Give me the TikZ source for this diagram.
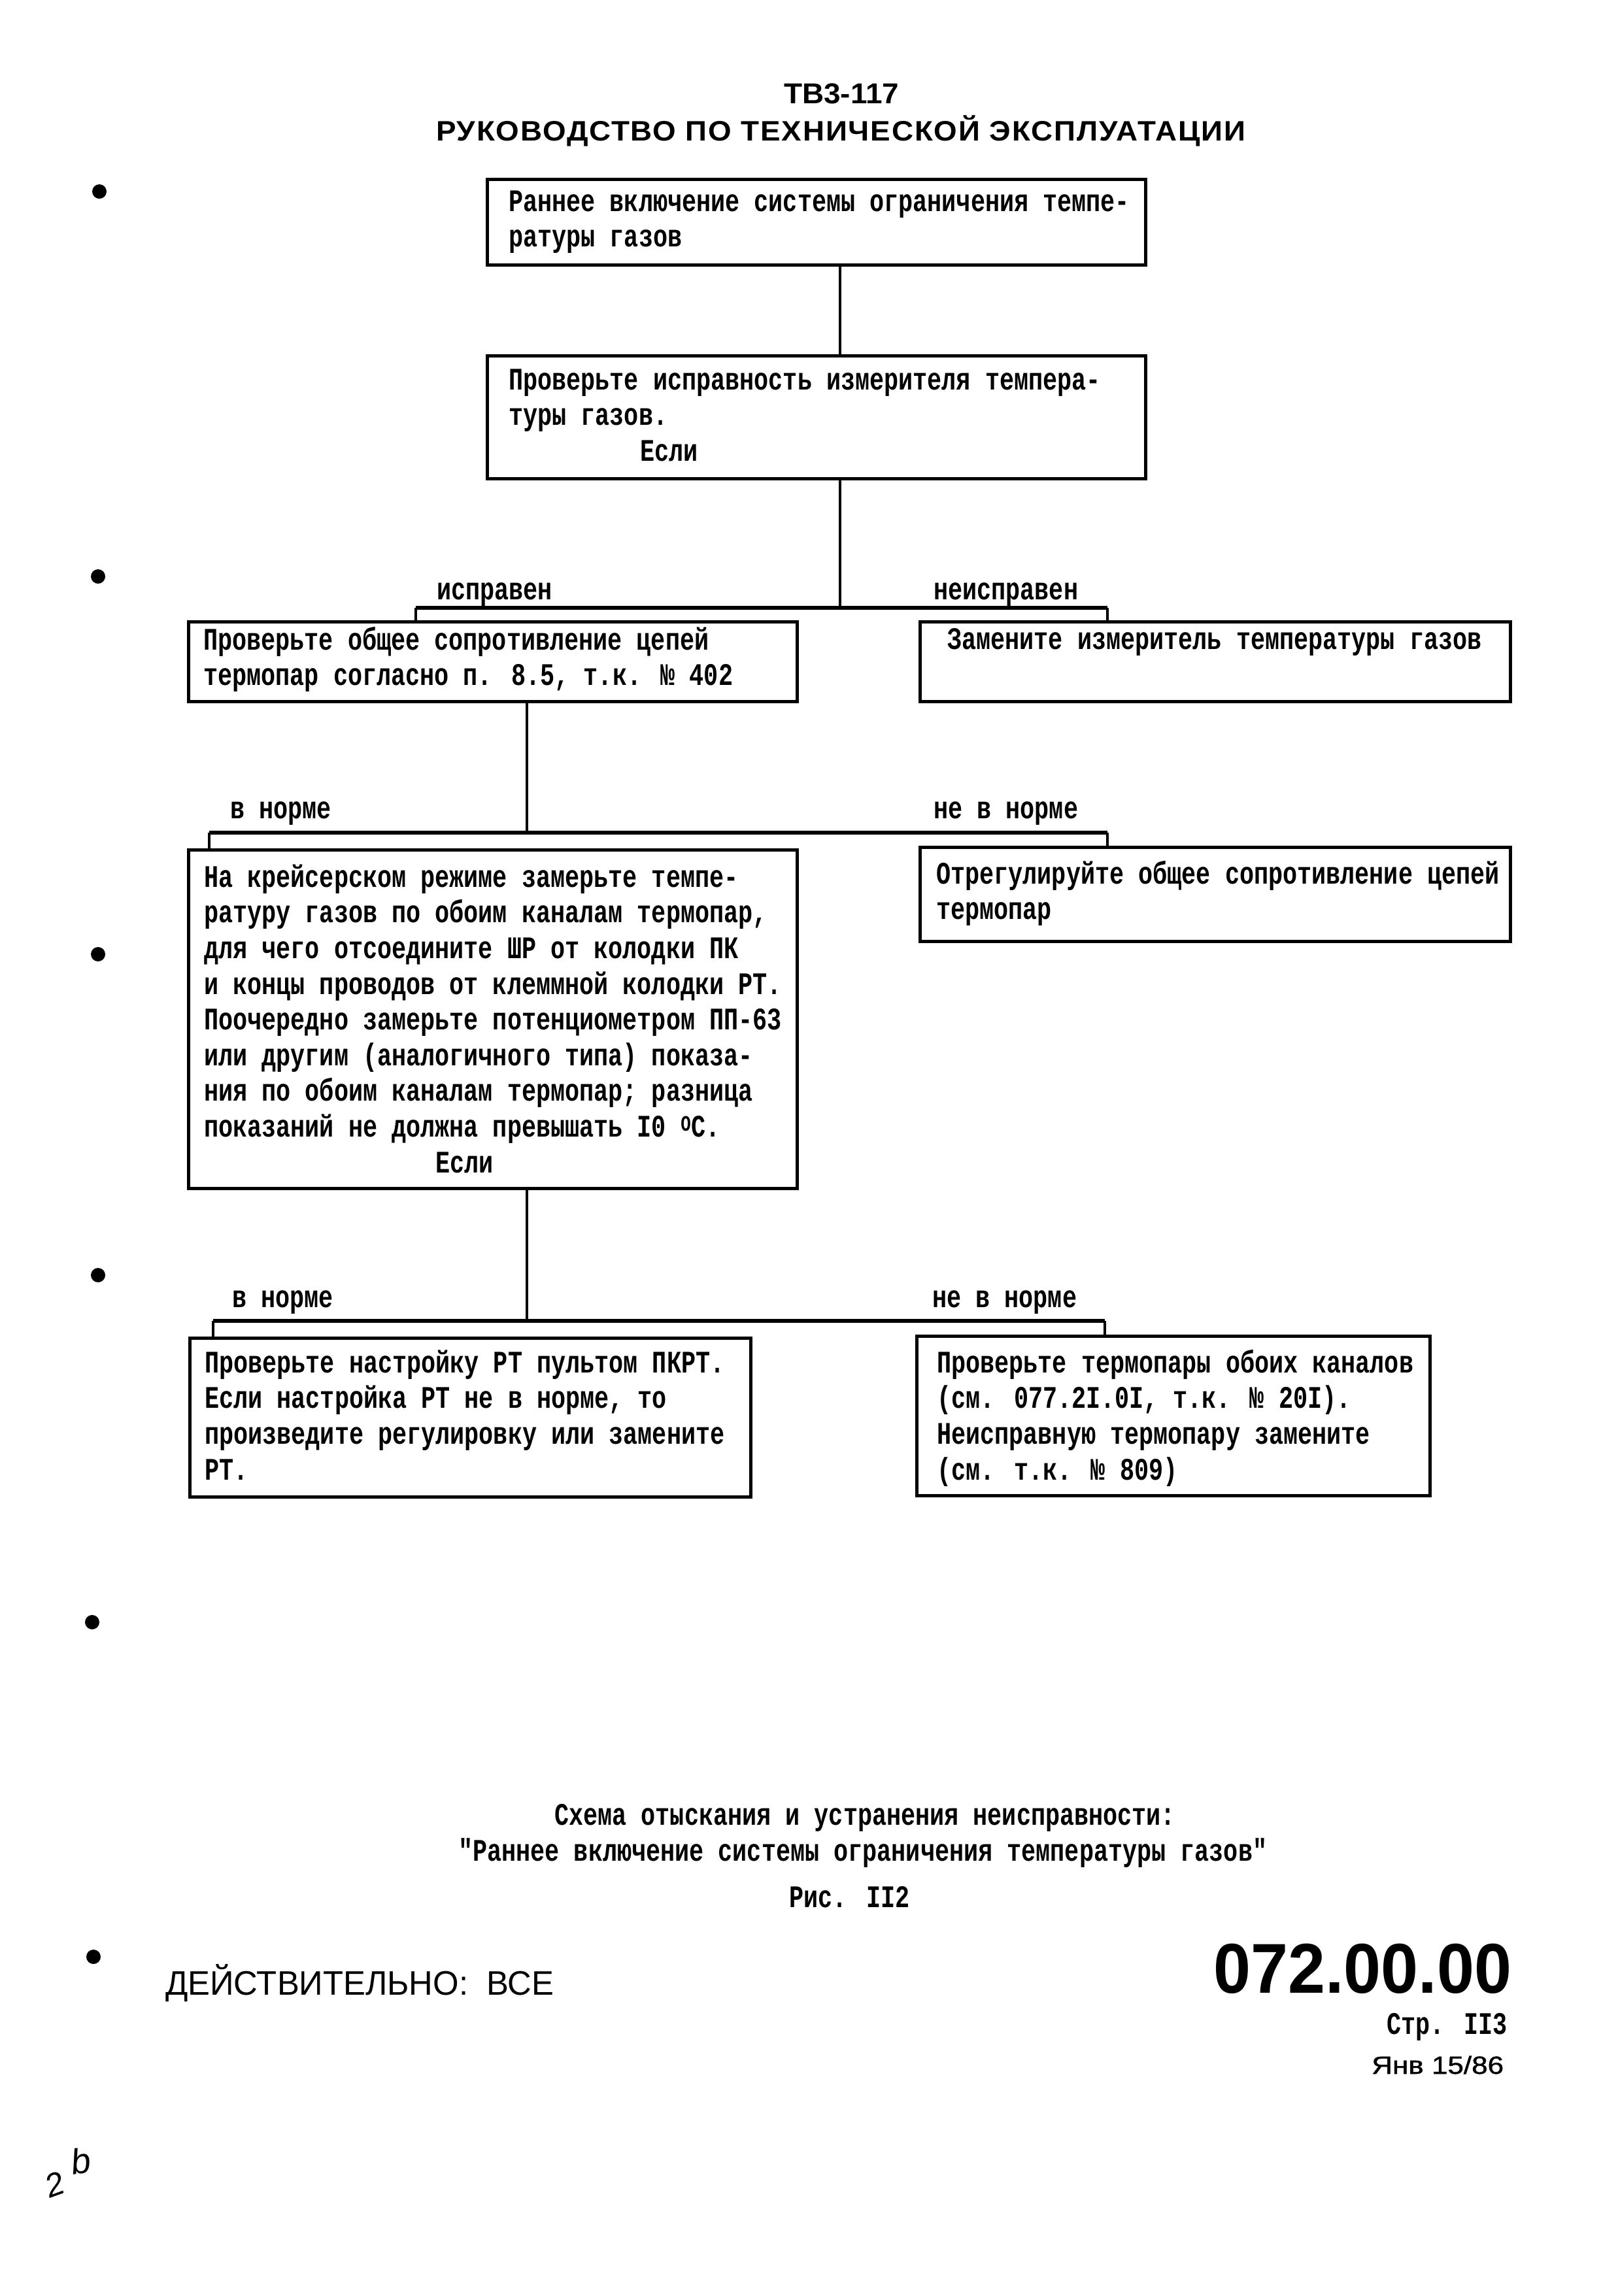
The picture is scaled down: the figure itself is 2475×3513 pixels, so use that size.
\documentclass[tikz,border=0pt]{standalone}
\usepackage{fontspec}
\usepackage{graphicx}
\newfontfamily\twb{Liberation Mono Bold}[FakeStretch=0.767]
\newfontfamily\hsb{Liberation Sans Bold}
\newfontfamily\hsbls{Liberation Sans Bold}[LetterSpace=4]
\newfontfamily\hsr{Liberation Sans}
\newfontfamily\hsm{Liberation Sans}[FakeBold=1.2]
\newfontfamily\hsi{Liberation Sans Italic}
\newcommand\wfit[2]{\resizebox{#1}{\height}{#2}}
\newcommand\fstrut{\rule{0pt}{40pt}}
\begin{document}
\begin{tikzpicture}[x=1pt,y=-1pt,
  box/.style={draw, line width=5pt, rectangle, inner sep=0pt, outer sep=0pt, anchor=north west},
  tx/.style={anchor=north west, inner sep=0pt, align=left, font={\twb\fontsize{48pt}{54.6pt}\selectfont}},
  lbl/.style={anchor=base west, inner sep=0pt, font={\twb\fontsize{48pt}{54.6pt}\selectfont}},
  conn/.style={line width=3.5pt},
  bar/.style={line width=6pt}]
\fill[white] (0,0) rectangle (2475,3513);
\path[use as bounding box] (0,0) rectangle (2475,3513);

% header
\node[anchor=base west, inner sep=0pt] (h1) at (1199,158) {\wfit{176pt}{\hsb\fontsize{44pt}{44pt}\selectfont ТВ3-117}};
\node[anchor=base west, inner sep=0pt] (h2) at (667,215) {\wfit{1238pt}{\hsbls\fontsize{43pt}{44pt}\selectfont РУКОВОДСТВО ПО ТЕХНИЧЕСКОЙ ЭКСПЛУАТАЦИИ}};

% punch-hole dots
\fill (152,293) circle[radius=11pt];
\fill (150,882) circle[radius=11pt];
\fill (150,1460) circle[radius=11pt];
\fill (150,1951) circle[radius=11pt];
\fill (141,2482) circle[radius=11pt];
\fill (143,2994) circle[radius=11pt];

% boxes
\node[box, minimum width=1007pt, minimum height=131pt] (b1) at (745,274) {};
\node[box, minimum width=1007pt, minimum height=188pt] (b2) at (745,544) {};
\node[box, minimum width=931pt, minimum height=122pt] (b3) at (288,951) {};
\node[box, minimum width=903pt, minimum height=122pt] (b4) at (1407,951) {};
\node[box, minimum width=931pt, minimum height=518pt] (b5) at (288,1300) {};
\node[box, minimum width=903pt, minimum height=144pt] (b6) at (1407,1296) {};
\node[box, minimum width=858pt, minimum height=243pt] (b7) at (290,2047) {};
\node[box, minimum width=785pt, minimum height=244pt] (b8) at (1402,2044) {};

% box texts
\node[tx] (t1) at (778,283) {\fstrut Раннее включение системы ограничения темпе-\\ратуры газов};
\node[tx] (t2) at (778,556) {\fstrut Проверьте исправность измерителя темпера-\\туры газов.\\\hspace*{201pt}Если};
\node[tx] (t3) at (311,954) {\fstrut Проверьте общее сопротивление цепей\\термопар согласно п. 8.5, т.к. № 402};
\node[tx] (t4) at (1449,953) {\fstrut Замените измеритель температуры газов};
\node[tx] (t5) at (312,1317) {\fstrut На крейсерском режиме замерьте темпе-\\ратуру газов по обоим каналам термопар,\\для чего отсоедините ШР от колодки ПК\\и концы проводов от клеммной колодки РТ.\\Поочередно замерьте потенциометром ПП-63\\или другим (аналогичного типа) показа-\\ния по обоим каналам термопар; разница\\показаний не должна превышать I0 \textsuperscript{O}C.\\\hspace*{354pt}Если};
\node[tx] (t6) at (1432,1312) {\fstrut Отрегулируйте общее сопротивление цепей\\термопар};
\node[tx] (t7) at (313,2060) {\fstrut Проверьте настройку РТ пультом ПКРТ.\\Если настройка РТ не в норме, то\\произведите регулировку или замените\\РТ.};
\node[tx] (t8) at (1433,2060) {\fstrut Проверьте термопары обоих каналов\\(см. 077.2I.0I, т.к. № 20I).\\Неисправную термопару замените\\(см. т.к. № 809)};

% branch 1
\coordinate (j1) at (1285,930);
\coordinate (bl1) at (636,930);
\coordinate (br1) at (1694,930);
\draw[conn] (b1.south -| j1) -- (b2.north -| j1);
\draw[conn] (b2.south -| j1) -- (j1);
\draw[bar] (bl1) -- (br1);
\draw[conn] (bl1) -- (b3.north -| bl1);
\draw[conn] (br1) -- (b4.north -| br1);
\node[lbl] (l1) at (668,917) {исправен};
\node[lbl] (l2) at (1428,917) {неисправен};

% branch 2
\coordinate (j2) at (806,1274);
\coordinate (bl2) at (320,1274);
\coordinate (br2) at (1694,1274);
\draw[conn] (b3.south -| j2) -- (j2);
\draw[bar] (bl2) -- (br2);
\draw[conn] (bl2) -- (b5.north -| bl2);
\draw[conn] (br2) -- (b6.north -| br2);
\node[lbl] (l3) at (352,1252) {в норме};
\node[lbl] (l4) at (1428,1252) {не в норме};

% branch 3
\coordinate (j3) at (806,2021);
\coordinate (bl3) at (326,2021);
\coordinate (br3) at (1690,2021);
\draw[conn] (b5.south -| j3) -- (j3);
\draw[bar] (bl3) -- (br3);
\draw[conn] (bl3) -- (b7.north -| bl3);
\draw[conn] (br3) -- (b8.north -| br3);
\node[lbl] (l5) at (355,2000) {в норме};
\node[lbl] (l6) at (1426,2000) {не в норме};

% caption
\node[lbl] (c1) at (848,2792) {Схема отыскания и устранения неисправности:};
\node[lbl] (c2) at (701,2847) {"Раннее включение системы ограничения температуры газов"};
\node[lbl] (c3) at (1207,2918) {Рис. II2};

% footer
\node[anchor=base west, inner sep=0pt] (f1) at (253,3052) {\wfit{594pt}{\hsr\fontsize{52pt}{52pt}\selectfont ДЕЙСТВИТЕЛЬНО:\ \ ВСЕ}};
\node[anchor=base west, inner sep=0pt] (f2) at (1856,3049) {\wfit{456pt}{\hsb\fontsize{108pt}{108pt}\selectfont 072.00.00}};
\node[lbl] (f3) at (2121,3112) {Стр. II3};
\node[anchor=base west, inner sep=0pt] (f4) at (2098,3173) {\wfit{202pt}{\hsm\fontsize{38pt}{38pt}\selectfont Янв 15/86}};

% handwritten mark
\node[rotate=20, inner sep=0pt, font={\hsi\fontsize{50pt}{50pt}\selectfont}] (hw1) at (84,3342) {2};
\node[rotate=8, inner sep=0pt, font={\hsi\fontsize{54pt}{54pt}\selectfont}] (hw2) at (124,3306) {b};
\end{tikzpicture}
\end{document}
